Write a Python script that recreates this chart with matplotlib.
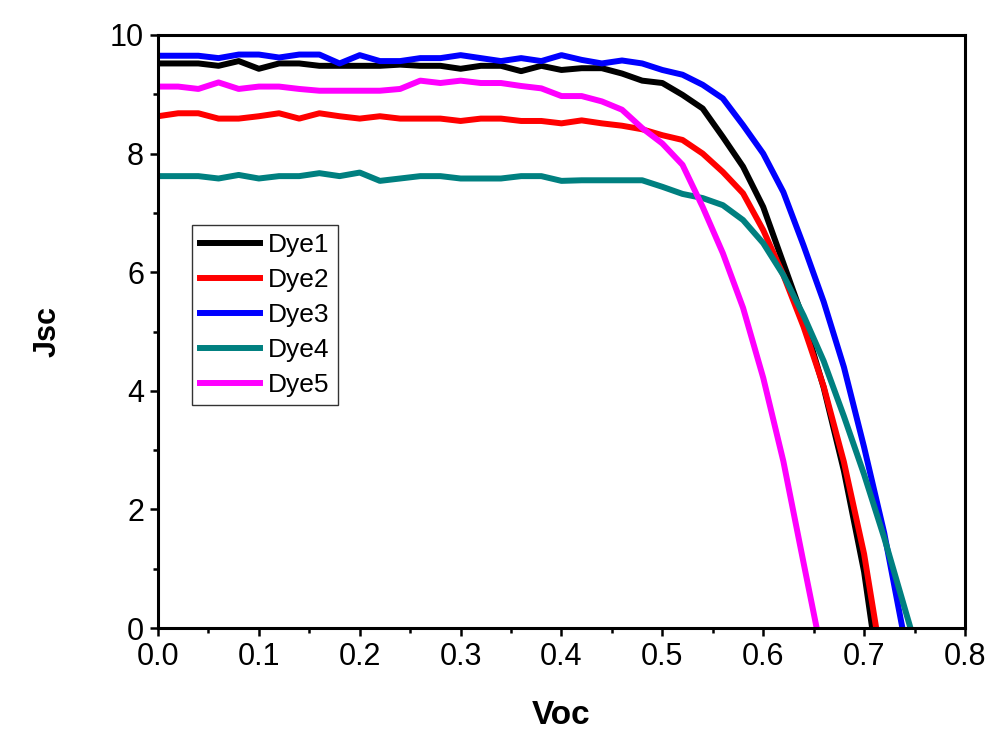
import matplotlib
matplotlib.use("Agg")
import matplotlib.pyplot as plt
from matplotlib.ticker import MultipleLocator

plt.rcParams['font.family'] = ['Liberation Sans', 'DejaVu Sans']

# 데이터
v_grid = [0.00, 0.02, 0.04, 0.06, 0.08, 0.10, 0.12, 0.14, 0.16, 0.18, 0.20,
          0.22, 0.24, 0.26, 0.28, 0.30, 0.32, 0.34, 0.36, 0.38, 0.40,
          0.42, 0.44, 0.46, 0.48, 0.50, 0.52, 0.54, 0.56, 0.58, 0.60,
          0.62, 0.64, 0.66, 0.68, 0.70, 0.72]

v_dye1 = v_grid[:36] + [0.708]
j_dye1 = [9.52, 9.52, 9.52, 9.48, 9.56, 9.43, 9.52, 9.52, 9.48, 9.48, 9.48,
          9.48, 9.50, 9.48, 9.48, 9.43, 9.48, 9.48, 9.39, 9.48, 9.41,
          9.44, 9.44, 9.35, 9.23, 9.19, 8.99, 8.76, 8.28, 7.78, 7.10,
          6.15, 5.20, 4.05, 2.65, 0.95, 0.0]

v_dye2 = v_grid[:36] + [0.712]
j_dye2 = [8.63, 8.68, 8.68, 8.59, 8.59, 8.63, 8.68, 8.59, 8.68, 8.63, 8.59,
          8.63, 8.59, 8.59, 8.59, 8.55, 8.59, 8.59, 8.55, 8.55, 8.51,
          8.56, 8.51, 8.47, 8.41, 8.31, 8.23, 8.00, 7.69, 7.33, 6.71,
          5.95, 5.08, 4.07, 2.80, 1.25, 0.0]

v_dye3 = v_grid[:37] + [0.738]
j_dye3 = [9.65, 9.65, 9.65, 9.61, 9.67, 9.67, 9.62, 9.67, 9.67, 9.52, 9.66,
          9.56, 9.56, 9.61, 9.61, 9.66, 9.61, 9.56, 9.61, 9.56, 9.66,
          9.58, 9.52, 9.57, 9.52, 9.41, 9.33, 9.16, 8.93, 8.48, 8.00,
          7.35, 6.45, 5.50, 4.40, 3.05, 1.60, 0.0]

v_dye4 = v_grid[:37] + [0.746]
j_dye4 = [7.62, 7.62, 7.62, 7.58, 7.64, 7.58, 7.62, 7.62, 7.67, 7.62, 7.68,
          7.54, 7.58, 7.62, 7.62, 7.58, 7.58, 7.58, 7.62, 7.62, 7.54,
          7.55, 7.55, 7.55, 7.55, 7.44, 7.32, 7.25, 7.13, 6.88, 6.49,
          5.95, 5.27, 4.50, 3.57, 2.59, 1.52, 0.0]

v_dye5 = v_grid[:33] + [0.653]
j_dye5 = [9.13, 9.13, 9.09, 9.20, 9.09, 9.13, 9.13, 9.09, 9.06, 9.06, 9.06,
          9.06, 9.09, 9.23, 9.19, 9.23, 9.19, 9.19, 9.14, 9.10, 8.97,
          8.97, 8.88, 8.74, 8.43, 8.17, 7.81, 7.10, 6.32, 5.40, 4.22,
          2.81, 1.10, 0.0]

labels = ["Dye1", "Dye2", "Dye3", "Dye4", "Dye5"]
colors = ["#000000", "#FF0000", "#0000FF", "#008080", "#FF00FF"]

# 그래프
fig = plt.figure(figsize=(9.95, 7.38), dpi=100)
ax = fig.add_axes([0.1588, 0.149, 0.8110, 0.8036])

series = [(v_dye1, j_dye1), (v_dye2, j_dye2), (v_dye3, j_dye3),
          (v_dye4, j_dye4), (v_dye5, j_dye5)]
for (v, j), lab, c in zip(series, labels, colors):
    ax.plot(v, j, color=c, lw=4.3, label=lab)

ax.set_xlim(0, 0.8)
ax.set_ylim(0, 10)
ax.xaxis.set_major_locator(MultipleLocator(0.1))
ax.xaxis.set_minor_locator(MultipleLocator(0.05))
ax.yaxis.set_major_locator(MultipleLocator(2))
ax.yaxis.set_minor_locator(MultipleLocator(1))

for s in ax.spines.values():
    s.set_linewidth(2.2)

ax.tick_params(which='major', direction='out', length=6, width=1.8,
               top=False, right=False, pad=4)
ax.tick_params(which='minor', direction='out', length=3.5, width=1.8,
               top=False, right=False)
ax.tick_params(axis='y', labelsize=22)
ax.set_xticks([0.0, 0.1, 0.2, 0.3, 0.4, 0.5, 0.6, 0.7, 0.8])
ax.set_xticklabels(["0.0", "0.1", "0.2", "0.3", "0.4", "0.5", "0.6", "0.7", "0.8"],
                   fontsize=22)

ax.set_xlabel("Voc", fontsize=24, fontweight='bold', labelpad=20)
ax.set_ylabel("Jsc", fontsize=22, fontweight='bold', labelpad=34)

leg = ax.legend(loc='upper left', bbox_to_anchor=(0.0418, 0.6796),
                borderaxespad=0, fontsize=19, frameon=True, fancybox=False,
                handlelength=2.3, handletextpad=0.3, labelspacing=0.42,
                borderpad=0.3)
leg.get_frame().set_edgecolor('black')
leg.get_frame().set_linewidth(1.0)
for line in leg.get_lines():
    line.set_linewidth(4.3)

plt.savefig("out.png", dpi=100)
